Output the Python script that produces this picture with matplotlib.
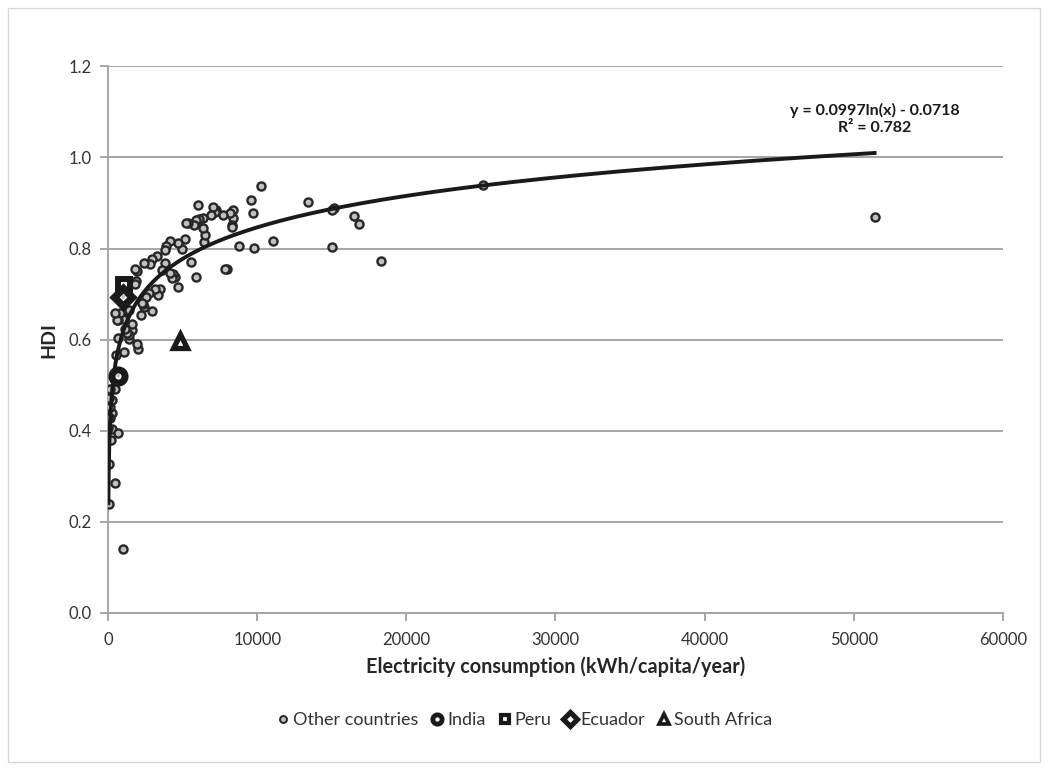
import numpy as np
import matplotlib.pyplot as plt
from matplotlib.lines import Line2D
from matplotlib.patches import Rectangle

# electricity use (kWh/capita/year) and HDI for the other countries
other_kwh = [51400, 25160, 18320, 16850, 16490, 15150, 14990, 14990, 13380, 11040,
             10280, 9810, 9740, 9560, 8780, 8400, 8400, 8330, 8310, 8180,
             7950, 7840, 7730, 7240, 7170, 7010, 6880, 6460, 6500, 6350,
             6350, 6120, 6000, 5900, 5900, 5760, 5560, 5380, 5220, 5160,
             4930, 4720, 4660, 4490, 4380, 4270, 4160, 4150, 3890, 3820,
             3820, 3600, 3490, 3330, 3310, 3150, 2970, 2920, 2820, 2770,
             2550, 2430, 2410, 2370, 2260, 2210, 2030, 1920, 1920, 1850,
             1810, 1810, 1630, 1590, 1430, 1430, 1400, 1250, 1140, 1090,
             1070, 1030, 980, 800, 690, 640, 625, 530, 470, 470,
             470, 250, 250, 250, 180, 130, 130, 130, 90, 90,
             70, 20, 20, 650]
other_hdi = [0.869, 0.939, 0.772, 0.853, 0.872, 0.889, 0.885, 0.803, 0.903, 0.816,
             0.938, 0.801, 0.878, 0.907, 0.805, 0.885, 0.868, 0.852, 0.847, 0.877,
             0.755, 0.754, 0.874, 0.885, 0.880, 0.891, 0.874, 0.814, 0.829, 0.844,
             0.866, 0.864, 0.896, 0.862, 0.738, 0.851, 0.770, 0.855, 0.857, 0.820,
             0.798, 0.716, 0.812, 0.738, 0.745, 0.736, 0.746, 0.817, 0.805, 0.796,
             0.768, 0.752, 0.712, 0.697, 0.783, 0.712, 0.663, 0.776, 0.767, 0.702,
             0.694, 0.672, 0.768, 0.679, 0.680, 0.655, 0.579, 0.751, 0.590, 0.728,
             0.756, 0.723, 0.621, 0.634, 0.664, 0.602, 0.611, 0.615, 0.624, 0.648,
             0.573, 0.140, 0.646, 0.659, 0.604, 0.644, 0.643, 0.566, 0.659, 0.491,
             0.286, 0.467, 0.439, 0.403, 0.379, 0.491, 0.452, 0.427, 0.471, 0.239,
             0.328, 0.427, 0.405, 0.395]

# highlighted countries
highlight_names = ['India', 'Peru', 'Ecuador', 'South Africa']
highlight_kwh = [680, 1050, 1030, 4830]
highlight_hdi = [0.521, 0.720, 0.694, 0.597]
highlight_markers = ['o', 's', 'D', '^']

# logarithmic trend line from the chart
trend_a = 0.0997
trend_b = -0.0718
trend_r2 = 0.782
trend_xmin, trend_xmax = 23, 51400

plt.rcParams['font.family'] = ['Lato', 'DejaVu Sans']

fig = plt.figure(figsize=(10.49, 7.71), dpi=100)
ax = fig.add_axes([0.103, 0.205, 0.853, 0.709])

grid_col = '#a6a6a6'
txt_col = '#333333'
dark = '#1a1a1a'

ax.scatter(other_kwh, other_hdi, s=34, facecolor='#c0c0c0', edgecolor='#262626',
           linewidth=1.7, zorder=3)

xs = np.geomspace(trend_xmin, trend_xmax, 400)
ax.plot(xs, trend_a * np.log(xs) + trend_b, color=dark, lw=2.8, zorder=4)

# marker size / edge width for each highlighted shape (big black outline, small white centre)
mstyle = {'o': (9.5, 5.0), 's': (9.2, 4.3), 'D': (9.5, 5.3), '^': (10.0, 3.8)}
for x, y, m in zip(highlight_kwh, highlight_hdi, highlight_markers):
    ms, mew = mstyle[m]
    ax.plot([x], [y], marker=m, ms=ms, mfc='white', mec=dark, mew=mew,
            ls='none', zorder=5)
# small grey centre dot seen inside the India and Ecuador markers
ax.scatter([highlight_kwh[0], highlight_kwh[2]], [highlight_hdi[0], highlight_hdi[2]],
           s=8, facecolor='#c0c0c0', edgecolor='none', zorder=6)

ax.text(51400, 1.085, f'y = {trend_a}ln(x) - {abs(trend_b)}\nR² = {trend_r2}',
        ha='center', va='center', fontsize=11.5, fontweight='bold', color=dark,
        linespacing=1.3)

ax.set_xlim(0, 60000)
ax.set_ylim(0, 1.2)
ax.set_xticks(range(0, 60001, 10000))
ax.set_yticks(np.arange(0, 1.21, 0.2))
ax.yaxis.set_major_formatter(plt.FormatStrFormatter('%.1f'))
ax.grid(axis='y', color=grid_col, lw=1.4)
ax.set_axisbelow(True)
for side in ['top', 'right']:
    ax.spines[side].set_visible(False)
for side in ['left', 'bottom']:
    ax.spines[side].set_color(grid_col)
    ax.spines[side].set_linewidth(1.4)
ax.tick_params(axis='both', color=grid_col, width=1.4, length=6, labelsize=12,
               labelcolor=txt_col)
ax.tick_params(axis='x', pad=8)
ax.tick_params(axis='y', pad=6)

ax.set_xlabel('Electricity consumption (kWh/capita/year)', fontsize=14.3,
              fontweight='bold', color='#262626', labelpad=6)
ax.set_ylabel('HDI', fontsize=14, fontweight='bold', color='#262626', labelpad=8)

handles = [Line2D([], [], marker='o', ms=5.0, mfc='#c0c0c0', mec='#262626', mew=1.4,
                  ls='none')]
for m in highlight_markers:
    ms, mew = mstyle[m]
    handles.append(Line2D([], [], marker=m, ms=ms * 0.7, mfc='white', mec=dark,
                          mew=mew * 0.7, ls='none'))
fig.legend(handles, ['Other countries'] + highlight_names, loc='center',
           bbox_to_anchor=(0.499, 0.066), ncol=5, frameon=False, fontsize=13,
           handletextpad=0.1, columnspacing=0.6, handlelength=0.9,
           labelcolor=txt_col)

fig.patches.append(Rectangle((8 / 1049, 9 / 771), 1032 / 1049, 754 / 771,
                             transform=fig.transFigure, fill=False,
                             edgecolor='#d9d9d9', lw=1))

fig.savefig('out.png', dpi=100, facecolor='white')
